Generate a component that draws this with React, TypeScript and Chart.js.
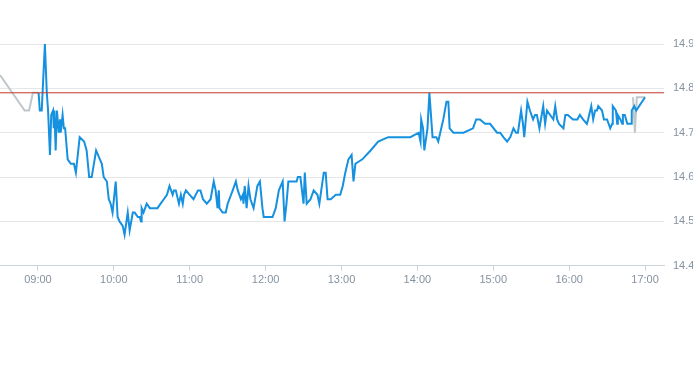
import React, { useEffect, useRef } from "react";
import { Chart, registerables } from "chart.js";

Chart.register(...registerables);

// Pre-market (grey) prices
const preTimes = ["08:30:00", "08:49:30", "08:53:00", "08:56:00", "09:00:00"];
const preValues = [14.83, 14.75, 14.75, 14.79, 14.79];

// Regular session (blue) prices
const sessionTimes = [
  "09:00:30", "09:01:30", "09:03:00", "09:05:30", "09:07:00", "09:08:00", "09:09:30", "09:10:30",
  "09:12:00", "09:12:30", "09:13:00", "09:14:00", "09:15:00", "09:16:30", "09:17:30", "09:18:00",
  "09:19:30", "09:20:30", "09:21:30", "09:23:30", "09:26:00", "09:28:30", "09:30:00", "09:33:00",
  "09:36:30", "09:38:30", "09:40:30", "09:42:30", "09:46:00", "09:49:00", "09:50:30", "09:52:00",
  "09:54:30", "09:56:00", "09:57:30", "09:59:00", "10:01:30", "10:03:00", "10:04:30", "10:07:00",
  "10:08:30", "10:11:00", "10:12:30", "10:15:00", "10:16:30", "10:19:00", "10:20:30", "10:21:30",
  "10:22:00", "10:23:30", "10:26:00", "10:28:30", "10:31:00", "10:34:30", "10:37:00", "10:39:30",
  "10:42:00", "10:44:00", "10:46:30", "10:47:30", "10:49:00", "10:51:30", "10:53:00", "10:54:30",
  "10:55:30", "10:57:00", "11:00:00", "11:03:00", "11:06:30", "11:08:30", "11:10:30", "11:13:30",
  "11:16:30", "11:19:00", "11:20:30", "11:22:00", "11:23:00", "11:23:30", "11:26:00", "11:28:30",
  "11:30:00", "11:34:00", "11:36:30", "11:38:00", "11:40:30", "11:42:00", "11:42:30", "11:43:30",
  "11:45:00", "11:46:30", "11:48:00", "11:50:30", "11:53:30", "11:55:30", "11:57:30", "11:58:30",
  "12:02:30", "12:05:30", "12:08:00", "12:10:30", "12:13:30", "12:15:00", "12:16:30", "12:18:00",
  "12:21:30", "12:24:30", "12:25:30", "12:27:30", "12:30:00", "12:31:00", "12:32:30", "12:35:30",
  "12:38:00", "12:41:00", "12:42:30", "12:46:00", "12:47:30", "12:49:00", "12:51:30", "12:55:30",
  "12:59:00", "13:01:00", "13:03:00", "13:05:30", "13:08:00", "13:09:30", "13:11:00", "13:16:30",
  "13:23:00", "13:29:00", "13:37:00", "13:54:30", "14:01:00", "14:02:30", "14:03:00", "14:04:30",
  "14:05:30", "14:08:00", "14:09:30", "14:12:00", "14:15:00", "14:16:30", "14:20:30", "14:23:00",
  "14:24:30", "14:25:30", "14:28:30", "14:36:30", "14:44:00", "14:46:30", "14:49:30", "14:53:30",
  "14:57:30", "15:03:00", "15:05:30", "15:08:00", "15:11:00", "15:13:30", "15:16:00", "15:18:00",
  "15:19:30", "15:22:00", "15:23:30", "15:24:30", "15:27:00", "15:29:00", "15:31:30", "15:33:00",
  "15:34:30", "15:36:30", "15:39:30", "15:41:00", "15:42:30", "15:45:00", "15:47:30", "15:49:00",
  "15:50:30", "15:52:00", "15:55:30", "15:57:00", "15:59:00", "16:03:00", "16:06:30", "16:08:30",
  "16:11:00", "16:14:00", "16:15:00", "16:17:30", "16:19:00", "16:20:30", "16:22:00", "16:23:00",
  "16:26:00", "16:27:30", "16:30:00", "16:32:30", "16:34:00", "16:34:30", "16:37:00", "16:38:00",
  "16:38:30", "16:40:30", "16:42:00", "16:42:30", "16:44:00", "16:46:00", "16:49:00", "16:49:30",
  "16:51:30", "16:53:00", "17:00:00",
];
const sessionValues = [
  14.79, 14.75, 14.75, 14.90, 14.79, 14.75, 14.65, 14.74,
  14.75, 14.71, 14.75, 14.66, 14.75, 14.70, 14.73, 14.70,
  14.74, 14.71, 14.71, 14.64, 14.63, 14.63, 14.61, 14.69,
  14.68, 14.66, 14.60, 14.60, 14.66, 14.64, 14.63, 14.60,
  14.59, 14.55, 14.54, 14.52, 14.59, 14.51, 14.50, 14.49,
  14.47, 14.52, 14.48, 14.52, 14.52, 14.51, 14.51, 14.50,
  14.53, 14.52, 14.54, 14.53, 14.53, 14.53, 14.54, 14.55,
  14.56, 14.58, 14.56, 14.57, 14.57, 14.54, 14.56, 14.54,
  14.56, 14.57, 14.56, 14.55, 14.57, 14.57, 14.55, 14.54,
  14.55, 14.59, 14.57, 14.53, 14.57, 14.53, 14.52, 14.52,
  14.54, 14.57, 14.59, 14.57, 14.55, 14.56, 14.54, 14.58,
  14.53, 14.58, 14.55, 14.53, 14.58, 14.59, 14.53, 14.51,
  14.51, 14.51, 14.53, 14.57, 14.59, 14.50, 14.54, 14.59,
  14.59, 14.59, 14.60, 14.60, 14.54, 14.61, 14.54, 14.55,
  14.57, 14.56, 14.54, 14.61, 14.61, 14.55, 14.55, 14.56,
  14.56, 14.58, 14.61, 14.64, 14.65, 14.59, 14.63, 14.64,
  14.66, 14.68, 14.69, 14.69, 14.70, 14.68, 14.73, 14.71,
  14.66, 14.71, 14.79, 14.69, 14.69, 14.68, 14.73, 14.77,
  14.77, 14.71, 14.70, 14.70, 14.71, 14.73, 14.73, 14.72,
  14.72, 14.70, 14.70, 14.69, 14.68, 14.69, 14.71, 14.70,
  14.70, 14.75, 14.72, 14.69, 14.77, 14.75, 14.73, 14.74,
  14.74, 14.71, 14.76, 14.72, 14.75, 14.74, 14.73, 14.76,
  14.73, 14.72, 14.71, 14.74, 14.74, 14.73, 14.73, 14.74,
  14.73, 14.72, 14.73, 14.76, 14.73, 14.75, 14.75, 14.76,
  14.75, 14.73, 14.73, 14.71, 14.72, 14.76, 14.75, 14.72,
  14.74, 14.73, 14.72, 14.74, 14.74, 14.72, 14.72, 14.75,
  14.76, 14.75, 14.78,
];

// After-hours (grey) prices
const postTimes = ["16:50:30", "16:52:00", "16:53:30", "17:00:00"];
const postValues = [14.78, 14.70, 14.78, 14.78];

// Previous close reference line
const previousClose = 14.79;

// Axis ranges and ticks
const axisStart = "08:30";
const axisEnd = "17:15";
const hourTicks = ["09:00", "10:00", "11:00", "12:00", "13:00", "14:00", "15:00", "16:00", "17:00"];
const priceMin = 14.4;
const priceMax = 14.9;
const priceStep = 0.1;

function toMinutes(t: string): number {
  const [h, m, s] = t.split(":").map(Number);
  return h * 60 + m + (s || 0) / 60;
}

function fmt(min: number): string {
  const h = Math.floor(min / 60);
  const m = Math.round(min - h * 60);
  return String(h).padStart(2, "0") + ":" + String(m).padStart(2, "0");
}

function pts(times: string[], values: number[]) {
  return times.map((t, i) => ({ x: toMinutes(t), y: values[i] }));
}

export default function App() {
  const ref = useRef<HTMLCanvasElement | null>(null);

  useEffect(() => {
    if (!ref.current) return;
    const xMin = toMinutes(axisStart);
    const xMax = toMinutes(axisEnd);
    const chart = new Chart(ref.current, {
      type: "line",
      data: {
        datasets: [
          {
            data: pts(sessionTimes, sessionValues),
            borderColor: "#1591e0",
            borderWidth: 2,
            pointRadius: 0,
            tension: 0,
            order: 1,
          },
          {
            data: pts(preTimes, preValues),
            borderColor: "#bfc7cc",
            borderWidth: 2,
            pointRadius: 0,
            tension: 0,
            order: 2,
          },
          {
            data: pts(postTimes, postValues),
            borderColor: "#bfc7cc",
            borderWidth: 2,
            pointRadius: 0,
            tension: 0,
            order: 2,
          },
          {
            data: [
              { x: xMin, y: previousClose },
              { x: xMax, y: previousClose },
            ],
            borderColor: "#c0392b",
            borderWidth: 1,
            pointRadius: 0,
            order: 0,
          },
        ],
      },
      options: {
        responsive: false,
        animation: false,
        layout: { padding: { top: 44, bottom: 75, left: 0, right: 0 } },
        plugins: { legend: { display: false }, tooltip: { enabled: false } },
        scales: {
          x: {
            type: "linear",
            min: xMin,
            max: xMax,
            afterBuildTicks: (scale: any) => {
              scale.ticks = hourTicks.map((t) => ({ value: toMinutes(t) }));
            },
            grid: {
              drawOnChartArea: false,
              drawTicks: true,
              tickLength: 5,
              color: "#ccd3d9",
            },
            border: { display: true, color: "#ccd3d9" },
            ticks: {
              padding: 3,
              maxRotation: 0,
              autoSkip: false,
              color: "#8592a0",
              font: { size: 11, family: "Arial, 'Liberation Sans', sans-serif" },
              callback: (v: any) => fmt(Number(v)),
            },
          },
          y: {
            position: "right",
            min: priceMin,
            max: priceMax,
            afterFit: (scale: any) => {
              scale.width = 36;
            },
            grid: { color: "#e6e6e6", drawTicks: false },
            border: { display: false },
            ticks: {
              stepSize: priceStep,
              padding: 9,
              color: "#8592a0",
              font: { size: 11, family: "Arial, 'Liberation Sans', sans-serif" },
              callback: (v: any) => Number(v).toFixed(1),
            },
          },
        },
      },
    });
    return () => chart.destroy();
  }, []);

  return (
    <div style={{ position: "fixed", left: 0, top: 0, width: 693, height: 365, overflow: "hidden", background: "#fff" }}>
      <canvas ref={ref} width={700} height={365} style={{ display: "block" }} />
    </div>
  );
}
